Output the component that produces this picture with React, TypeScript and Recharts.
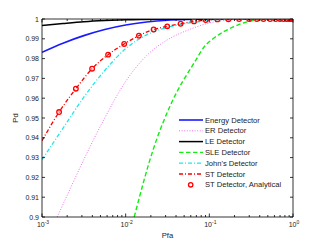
import React from "react";
import { LineChart, Line, XAxis, YAxis, Legend } from "recharts";

// Pfa (x) and Pd (y), one pair of arrays per detector
const energyPfa = [0.001, 0.00178, 0.00316, 0.00562, 0.01, 0.0178, 0.0316, 0.0562, 0.1, 0.316, 1];
const energyPd = [0.9832, 0.9878, 0.9916, 0.9947, 0.997, 0.9985, 0.9994, 0.9998, 1, 1, 1];

const erPfa = [0.00152, 0.00234, 0.00316, 0.00562, 0.01, 0.0178, 0.0316, 0.0562, 0.1, 0.178, 0.316, 1];
const erPd = [0.9, 0.9172, 0.929, 0.95, 0.9685, 0.9815, 0.9895, 0.9945, 0.998, 0.9995, 1, 1];

const lePfa = [0.001, 0.00178, 0.00316, 0.00562, 0.01, 0.0316, 0.1, 1];
const lePd = [0.9967, 0.9977, 0.9986, 0.9992, 0.9996, 0.9999, 1, 1];

const slePfa = [0.01265, 0.0213, 0.0338, 0.0675, 0.0891, 0.107, 0.1936, 0.255, 0.386, 0.63, 1];
const slePd = [0.9, 0.934, 0.9559, 0.9786, 0.9865, 0.9895, 0.996, 0.998, 0.9996, 1, 1];

const johnPfa = [0.001, 0.00178, 0.00316, 0.00562, 0.01, 0.0178, 0.0316, 0.0562, 0.1, 0.178, 0.316, 1];
const johnPd = [0.929, 0.9448, 0.9605, 0.974, 0.985, 0.992, 0.9958, 0.9979, 0.9992, 0.9998, 1, 1];

const stPfa = [0.001, 0.0016, 0.00254, 0.00397, 0.00617, 0.0096, 0.0144, 0.0216, 0.0314, 0.0454, 0.0656, 0.0906, 0.125, 0.169, 0.227, 0.299, 0.37, 0.444, 0.533, 0.62, 0.7, 0.77, 0.84, 0.9, 0.95, 0.98, 1];
const stPd = [0.9385, 0.953, 0.9648, 0.9749, 0.982, 0.9874, 0.9916, 0.9947, 0.9963, 0.9976, 0.9988, 0.9995, 0.9998, 0.9999, 1, 1, 1, 1, 1, 1, 1, 1, 1, 1, 1, 1, 1];

// analytical markers (same points as the ST curve, minus the first one)
const stMarkPfa = stPfa.slice(1);
const stMarkPd = stPd.slice(1);

const xMajor = [0.001, 0.01, 0.1, 1];
const xExp = ["-3", "-2", "-1", "0"];
const xMinor = [
  0.002, 0.003, 0.004, 0.005, 0.006, 0.007, 0.008, 0.009,
  0.02, 0.03, 0.04, 0.05, 0.06, 0.07, 0.08, 0.09,
  0.2, 0.3, 0.4, 0.5, 0.6, 0.7, 0.8, 0.9,
];
const yTicks = [0.9, 0.91, 0.92, 0.93, 0.94, 0.95, 0.96, 0.97, 0.98, 0.99, 1];

const zip = (xs: number[], ys: number[]) => xs.map((pfa, i) => ({ pfa, pd: ys[i] }));

const FONT = "'Liberation Sans', Arial, sans-serif";
const TXT = "#222";

const series = [
  { name: "Energy Detector", color: "#1a1aff", width: 1.6, dash: undefined, data: zip(energyPfa, energyPd) },
  { name: "ER Detector", color: "#f070f0", width: 1, dash: "1 1.6", data: zip(erPfa, erPd) },
  { name: "LE Detector", color: "#000000", width: 1.5, dash: undefined, data: zip(lePfa, lePd) },
  { name: "SLE Detector", color: "#11ee11", width: 1.4, dash: "4.5 2.5", data: zip(slePfa, slePd) },
  { name: "John's Detector", color: "#1ee8e8", width: 1.3, dash: "4 2 1 2", data: zip(johnPfa, johnPd) },
  { name: "ST Detector", color: "#ff0000", width: 1.3, dash: "4 2 1 2", data: zip(stPfa, stPd) },
];
const markData = zip(stMarkPfa, stMarkPd);

const BottomTick = (p: any) => {
  const v = p.payload.value;
  const i = xMajor.indexOf(v);
  return (
    <g>
      <line x1={p.x} y1={p.y} x2={p.x} y2={p.y - (i >= 0 ? 3.5 : 2)} stroke="#000" strokeWidth={0.8} />
      {i >= 0 && (
        <text x={p.x + 1} y={p.y + 10} textAnchor="middle" fontSize={7} fill={TXT} fontFamily={FONT}>
          10<tspan dy={-3.5} fontSize={5}>{xExp[i]}</tspan>
        </text>
      )}
    </g>
  );
};

const TopTick = (p: any) => {
  const major = xMajor.indexOf(p.payload.value) >= 0;
  return <line x1={p.x} y1={p.y} x2={p.x} y2={p.y + (major ? 3.5 : 2)} stroke="#000" strokeWidth={0.8} />;
};

const LeftTick = (p: any) => (
  <g>
    <line x1={p.x} y1={p.y} x2={p.x + 3} y2={p.y} stroke="#000" strokeWidth={0.8} />
    <text x={p.x - 3} y={p.y} dy={2.5} textAnchor="end" fontSize={7} fill={TXT} fontFamily={FONT}>
      {String(Number(p.payload.value.toFixed(2)))}
    </text>
  </g>
);

const RightTick = (p: any) => (
  <line x1={p.x} y1={p.y} x2={p.x - 3} y2={p.y} stroke="#000" strokeWidth={0.8} />
);

const LegendBox = () => (
  <svg width={130} height={80} style={{ display: "block" }}>
    {series.map((s, i) => (
      <g key={s.name}>
        <line x1={1} x2={25} y1={6 + i * 10.8} y2={6 + i * 10.8} stroke={s.color} strokeWidth={s.width} strokeDasharray={s.dash} />
        <text x={27} y={6 + i * 10.8} dy={2.6} fontSize={7.6} fill={TXT} fontFamily={FONT}>{s.name}</text>
      </g>
    ))}
    <circle cx={12.7} cy={6 + 6 * 10.8} r={2.2} fill="none" stroke="#ff0000" strokeWidth={1.3} />
    <text x={27} y={6 + 6 * 10.8} dy={2.6} fontSize={7.6} fill={TXT} fontFamily={FONT}>ST Detector, Analytical</text>
  </svg>
);

export default function App() {
  return (
    <div style={{ position: "absolute", left: 0, top: 0, width: 325, height: 245, background: "#fff" }}>
      <LineChart width={325} height={245} margin={{ top: 18, right: 31, bottom: 0, left: 0 }} style={{ fontFamily: FONT }}>
        <XAxis
          dataKey="pfa" type="number" scale="log" domain={[0.001, 1]} allowDataOverflow
          ticks={[...xMajor, ...xMinor]} tick={BottomTick} tickSize={0} tickMargin={0} height={28}
          axisLine={{ stroke: "#000", strokeWidth: 0.8 }} tickLine={false} interval={0}
          label={{ content: (lp: any) => (
            <text x={lp.viewBox.x + lp.viewBox.width / 2} y={lp.viewBox.y + 21} textAnchor="middle" fontSize={7.6} fill={TXT} fontFamily={FONT}>Pfa</text>
          ) }}
        />
        <XAxis
          xAxisId="top" orientation="top" dataKey="pfa" type="number" scale="log" domain={[0.001, 1]} allowDataOverflow
          ticks={[...xMajor, ...xMinor]} tick={TopTick} tickSize={0} tickMargin={0} height={1}
          axisLine={{ stroke: "#000", strokeWidth: 0.8 }} tickLine={false} interval={0}
        />
        <YAxis
          type="number" domain={[0.9, 1]} allowDataOverflow ticks={yTicks} tick={LeftTick}
          tickSize={0} tickMargin={0} width={42} interval={0}
          axisLine={{ stroke: "#000", strokeWidth: 0.8 }} tickLine={false}
          label={{ content: (lp: any) => (
            <text x={18} y={lp.viewBox.y + lp.viewBox.height / 2} transform={`rotate(-90 18 ${lp.viewBox.y + lp.viewBox.height / 2})`} textAnchor="middle" fontSize={7.6} fill={TXT} fontFamily={FONT}>Pd</text>
          ) }}
        />
        <YAxis
          yAxisId="r" orientation="right" type="number" domain={[0.9, 1]} allowDataOverflow ticks={yTicks} tick={RightTick}
          tickSize={0} tickMargin={0} width={1} interval={0}
          axisLine={{ stroke: "#000", strokeWidth: 0.8 }} tickLine={false}
        />
        {series.map((s) => (
          <Line
            key={s.name} data={s.data} dataKey="pd" name={s.name} type="monotone"
            stroke={s.color} strokeWidth={s.width} strokeDasharray={s.dash}
            dot={false} activeDot={false} isAnimationActive={false}
          />
        ))}
        <Line
          data={markData} dataKey="pd" name="ST Detector, Analytical" stroke="none"
          dot={{ r: 2.3, stroke: "#ff0000", strokeWidth: 1.3, fill: "none" }}
          activeDot={false} isAnimationActive={false}
        />
        <Legend
          layout="vertical" align="center" verticalAlign="middle"
          content={LegendBox}
          wrapperStyle={{ position: "absolute", left: 178, top: 114, width: 130, height: 80 }}
        />
      </LineChart>
    </div>
  );
}
